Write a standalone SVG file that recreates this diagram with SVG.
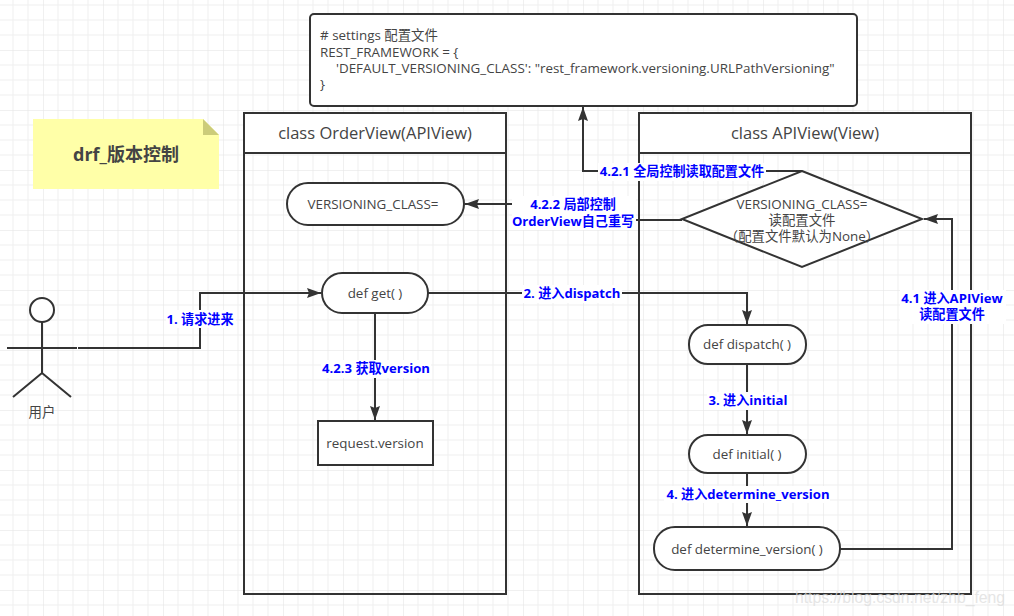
<svg xmlns="http://www.w3.org/2000/svg" width="1014" height="616" viewBox="0 0 1014 616">
<defs>
<pattern id="g" width="60" height="60" patternUnits="userSpaceOnUse" x="43" y="50">
<path d="M15 0V60M30 0V60M45 0V60M0 15H60M0 30H60M0 45H60" fill="none" stroke="#efefef" stroke-width="1"/>
<path d="M0 0V60M0 0H60" fill="none" stroke="#e2e2e2" stroke-width="1"/>
</pattern>
<marker id="a" markerUnits="userSpaceOnUse" markerWidth="15" markerHeight="12" refX="14" refY="5" orient="auto"><path d="M0 0L14 5L0 10L2 5Z" fill="#333"/></marker>
</defs>
<style>
.s{fill:#fff;stroke:#333;stroke-width:2}
.c{fill:none;stroke:#333;stroke-width:2}
text{font-family:"Open Sans","Noto Sans CJK SC",sans-serif;fill:#444;font-size:13.4px}
.m{text-anchor:middle}
.t{font-size:16.5px}
.l{fill:#00f;font-weight:bold;text-anchor:middle;font-size:13.1px}
.b{fill:#fff}
</style>
<rect width="1014" height="616" fill="#fff"/>
<rect width="1014" height="616" fill="url(#g)"/>
<g id="note">
<path d="M33 119H203L219 135V189H33Z" fill="#ffffa8"/>
<path d="M203 119L219 135H203Z" fill="#cccc7a"/>
<text x="126" y="161" class="m" style="font-size:18px;font-weight:bold">drf_版本控制</text>
</g>
<g id="settings">
<rect x="310" y="14" width="547" height="92" rx="4" class="s"/>
<text x="320" y="40">
<tspan x="320"># settings 配置文件</tspan>
<tspan x="320" dy="16.5">REST_FRAMEWORK = {</tspan>
<tspan x="336" dy="16.5">'DEFAULT_VERSIONING_CLASS': "rest_framework.versioning.URLPathVersioning"</tspan>
<tspan x="320" dy="16">}</tspan>
</text>
</g>
<g id="orderview">
<rect x="244" y="113" width="262" height="481" fill="none" stroke="#333" stroke-width="2"/>
<rect x="244" y="113" width="262" height="40" class="s"/>
<text x="375" y="139" class="m t">class OrderView(APIView)</text>
</g>
<g id="apiview">
<rect x="639" y="113" width="332" height="481" fill="none" stroke="#333" stroke-width="2"/>
<rect x="639" y="113" width="332" height="40" class="s"/>
<text x="805" y="139" class="m t">class APIView(View)</text>
</g>
<g id="connectors">
<path d="M78 348H200V293H321" class="c" marker-end="url(#a)"/>
<path d="M428 293H747V324" class="c" marker-end="url(#a)"/>
<path d="M375 313V420" class="c" marker-end="url(#a)"/>
<path d="M747 364V434" class="c" marker-end="url(#a)"/>
<path d="M747 473V526" class="c" marker-end="url(#a)"/>
<path d="M840 549H952V219H924" class="c" marker-end="url(#a)"/>
<path d="M802 171H583V107" class="c" marker-end="url(#a)"/>
<path d="M682 220H590" class="c"/>
<path d="M512 204H465" class="c" marker-end="url(#a)"/>
</g>
<g id="versioning-class">
<rect x="287" y="183" width="177" height="42" rx="21" class="s"/>
<text x="373" y="209" class="m">VERSIONING_CLASS=</text>
</g>
<g id="def-get">
<rect x="322" y="273" width="106" height="40" rx="20" class="s"/>
<text x="375" y="298" class="m">def get( )</text>
</g>
<g id="request-version">
<rect x="318" y="421" width="115" height="44" class="s"/>
<text x="375" y="448" class="m">request.version</text>
</g>
<g id="decision">
<path d="M802 171L922 219L802 267L682 219Z" class="s"/>
<text class="m" y="209"><tspan x="802">VERSIONING_CLASS=</tspan><tspan x="802" dy="16">读配置文件</tspan><tspan x="802" dy="16">（配置文件默认为None）</tspan></text>
</g>
<g id="def-dispatch">
<rect x="689" y="325" width="117" height="39" rx="19" class="s"/>
<text x="747" y="349" class="m">def dispatch( )</text>
</g>
<g id="def-initial">
<rect x="689" y="435" width="117" height="38" rx="19" class="s"/>
<text x="747" y="459" class="m">def initial( )</text>
</g>
<g id="def-determine-version">
<rect x="654" y="527" width="186" height="43" rx="21" class="s"/>
<text x="747" y="554" class="m">def determine_version( )</text>
</g>
<g id="actor">
<circle cx="42" cy="310" r="12" fill="#fff" stroke="#333" stroke-width="2"/>
<path d="M42 322V373M7 348H77M42 373L13 397M42 373L71 397" class="c"/>
<text x="42" y="417" class="m">用户</text>
</g>
<g id="labels">
<rect x="166" y="310" width="70" height="18" class="b"/>
<text x="200" y="324" class="l">1. 请求进来</text>
<rect x="522" y="285" width="100" height="18" class="b"/>
<text x="572" y="298" class="l">2. 进入dispatch</text>
<rect x="707" y="392" width="82" height="18" class="b"/>
<text x="748" y="405" class="l">3. 进入initial</text>
<rect x="664" y="486" width="166" height="17" class="b"/>
<text x="748" y="499" class="l">4. 进入determine_version</text>
<rect x="321" y="360" width="110" height="18" class="b"/>
<text x="376" y="373" class="l">4.2.3 获取version</text>
<rect x="598" y="163" width="168" height="18" class="b"/>
<text x="682" y="176" class="l">4.2.1 全局控制读取配置文件</text>
<rect x="512" y="196" width="124" height="34" class="b"/>
<text class="l" y="209"><tspan x="573">4.2.2 局部控制</tspan><tspan x="573" dy="17">OrderView自己重写</tspan></text>
<rect x="900" y="290" width="106" height="34" class="b"/>
<text class="l" y="303"><tspan x="952">4.1 进入APIView</tspan><tspan x="952" dy="16">读配置文件</tspan></text>
</g>
<text x="900" y="603" class="m" style="font-family:'Liberation Sans',sans-serif;font-size:15.75px;fill:#ddd;opacity:.75">https://blog.csdn.net/zhb_feng</text>
</svg>
